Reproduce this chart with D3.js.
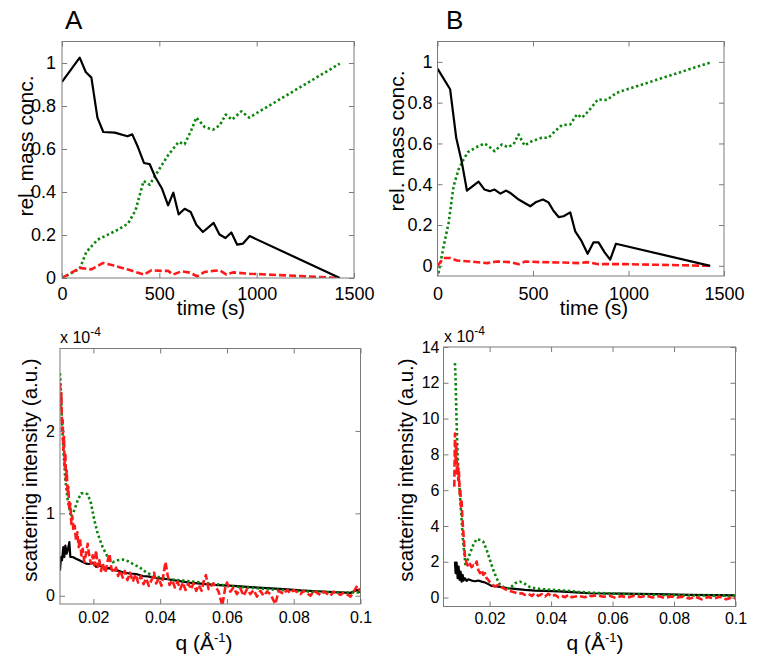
<!DOCTYPE html>
<html><head><meta charset="utf-8">
<script src="https://cdn.jsdelivr.net/npm/d3@7"></script>
<style>body{margin:0;background:#fff}</style>
</head><body>
<svg id="c" width="759" height="668"></svg>
<script>
// ---------- Panel A (top): relative mass concentration vs time ----------
const aBlackT = [0, 91, 122, 151, 182, 212, 271, 336, 361, 390, 421, 450, 479, 514, 545, 572, 599, 630, 661, 690, 724, 779, 809, 840, 870, 900, 930, 964, 1427];
const aBlackC = [0.912, 1.025, 0.958, 0.932, 0.746, 0.679, 0.676, 0.659, 0.668, 0.609, 0.535, 0.530, 0.470, 0.415, 0.338, 0.397, 0.296, 0.322, 0.307, 0.248, 0.214, 0.256, 0.202, 0.186, 0.212, 0.155, 0.160, 0.195, 0];
const aGreenT = [0, 91, 125, 182, 219, 288, 339, 378, 419, 450, 485, 545, 599, 630, 664, 690, 733, 776, 810, 841, 873, 921, 961, 1427];
const aGreenC = [0, 0.043, 0.121, 0.178, 0.194, 0.225, 0.253, 0.315, 0.451, 0.434, 0.485, 0.571, 0.633, 0.622, 0.687, 0.746, 0.702, 0.690, 0.710, 0.760, 0.736, 0.775, 0.746, 0.997];
const aRedT = [0, 91, 151, 211, 262, 339, 421, 459, 510, 545, 570, 613, 656, 695, 733, 776, 810, 845, 878, 964, 1221, 1427];
const aRedC = [0, 0.047, 0.040, 0.070, 0.059, 0.039, 0.016, 0.036, 0.033, 0.033, 0.016, 0.031, 0.025, 0.008, 0.028, 0.033, 0.036, 0.016, 0.026, 0.020, 0.009, 0];

// ---------- Panel B (top) ----------
const bBlackT = [0, 66, 98, 128, 154, 215, 246, 273, 299, 329, 360, 389, 425, 456, 486, 517, 552, 581, 607, 634, 660, 695, 721, 752, 786, 817, 843, 875, 904, 934, 1428];
const bBlackC = [0.967, 0.866, 0.628, 0.505, 0.369, 0.413, 0.374, 0.366, 0.374, 0.354, 0.369, 0.352, 0.325, 0.308, 0.292, 0.313, 0.325, 0.311, 0.270, 0.239, 0.243, 0.262, 0.169, 0.125, 0.059, 0.115, 0.115, 0.066, 0.030, 0.108, 0];
const bGreenT = [0, 32, 58, 84, 110, 136, 159, 197, 246, 267, 299, 337, 368, 398, 424, 456, 494, 546, 581, 616, 651, 695, 730, 756, 791, 840, 887, 939, 1428];
const bGreenC = [-0.06, 0.095, 0.210, 0.390, 0.472, 0.521, 0.557, 0.579, 0.600, 0.587, 0.562, 0.595, 0.582, 0.595, 0.644, 0.590, 0.611, 0.628, 0.628, 0.661, 0.690, 0.693, 0.743, 0.726, 0.759, 0.816, 0.813, 0.849, 0.997];
const bRedT = [0, 32, 66, 101, 171, 259, 311, 381, 425, 460, 538, 660, 747, 782, 843, 983, 1428];
const bRedC = [0.0, 0.038, 0.038, 0.026, 0.021, 0.013, 0.021, 0.018, 0.008, 0.021, 0.018, 0.016, 0.013, 0.018, 0.008, 0.008, 0];

// ---------- Panel A (bottom): scattering intensity (x 1e-4) vs q ----------
const cBlackQ = [0.0100, 0.0103, 0.0106, 0.0110, 0.0113, 0.0116, 0.0120, 0.0123, 0.0128, 0.0131,
  0.0138, 0.0148, 0.0158, 0.0168, 0.0178, 0.0188, 0.0198, 0.0208, 0.0218, 0.0228,
  0.0238, 0.0248, 0.0258, 0.0273, 0.0288, 0.0308, 0.0328, 0.0348, 0.0368, 0.0388,
  0.0418, 0.0448, 0.0488, 0.0538, 0.0560, 0.0620, 0.0670, 0.0720, 0.0770, 0.0820,
  0.0870, 0.0920, 0.0970, 0.0990, 0.1000];
const cBlackI = [0.305, 0.47, 0.43, 0.59, 0.47, 0.61, 0.51, 0.55, 0.65, 0.47,
  0.47, 0.45, 0.43, 0.41, 0.39, 0.385, 0.40, 0.35, 0.37, 0.345,
  0.33, 0.335, 0.31, 0.305, 0.285, 0.27, 0.264, 0.24, 0.232, 0.215,
  0.203, 0.183, 0.16, 0.142, 0.133, 0.121, 0.105, 0.093, 0.08, 0.065,
  0.055, 0.044, 0.035, 0.07, 0.04];
const cGreenQ = [0.0100, 0.0103, 0.0106, 0.0110, 0.0116, 0.0123, 0.0133, 0.0143, 0.0153, 0.0163,
  0.0173, 0.0183, 0.0193, 0.0203, 0.0213, 0.0228, 0.0243, 0.0258, 0.0273, 0.0288,
  0.0303, 0.0318, 0.0338, 0.0358, 0.0378, 0.0408, 0.0448, 0.0488, 0.0538, 0.062,
  0.072, 0.082, 0.092, 0.1];
const cGreenI = [2.70, 2.46, 2.13, 1.77, 1.40, 1.16, 0.955, 1.04, 1.16, 1.24,
  1.25, 1.23, 1.12, 0.915, 0.752, 0.589, 0.467, 0.407, 0.43, 0.44,
  0.42, 0.386, 0.346, 0.285, 0.244, 0.215, 0.191, 0.175, 0.155, 0.113,
  0.081, 0.055, 0.04, 0.04];
const cRedQ = [0.0100,0.0102,0.0104,0.0106,0.0108,0.0110,0.0112,0.0114,0.0116,0.0118,
  0.0120,0.0123,0.0125,0.0128,0.0131,0.0134,0.0137,0.0140,0.0144,0.0148,
  0.0152,0.0156,0.0160,0.0164,0.0168,0.0173,0.0178,0.0183,0.0188,0.0193,
  0.0198,0.0203,0.0208,0.0213,0.0218,0.0223,0.0228,0.0236,0.0243,0.0248,
  0.0254,0.0260,0.0268,0.0274,0.0280,0.0288,0.0294,0.0302,0.0310,0.0318,
  0.0326,0.0334,0.0342,0.0350,0.0358,0.0366,0.0374,0.0382,0.0388,0.0396,
  0.0404,0.0410,0.0416,0.0422,0.0428,0.0436,0.0444,0.0452,0.0460,0.0468,
  0.0476,0.0484,0.0492,0.0500,0.0508,0.0516,0.0524,0.0532,0.0537,0.0545,
  0.0560,0.0575,0.0586,0.0595,0.0600,0.0610,0.0620,0.0630,0.0640,0.0650,
  0.0660,0.0670,0.0680,0.0690,0.0700,0.0710,0.0720,0.0730,0.0745,0.0755,
  0.0770,0.0780,0.0790,0.0800,0.0820,0.0830,0.0850,0.0860,0.0880,0.0890,
  0.0910,0.0920,0.0940,0.0950,0.0970,0.0980,0.0990,0.1000];
const cRedI = [2.58,2.30,2.46,2.01,2.13,1.77,1.93,1.57,1.73,1.40,
  1.52,1.24,1.32,1.04,1.12,0.87,0.96,0.79,0.85,0.67,
  0.77,0.59,0.69,0.49,0.57,0.41,0.51,0.63,0.47,0.39,
  0.49,0.37,0.55,0.35,0.43,0.30,0.39,0.28,0.43,0.51,
  0.33,0.28,0.34,0.24,0.31,0.22,0.30,0.19,0.28,0.17,
  0.26,0.16,0.24,0.14,0.21,0.12,0.19,0.28,0.15,0.21,
  0.12,0.26,0.41,0.26,0.13,0.19,0.10,0.17,0.08,0.16,
  0.07,0.15,0.08,0.15,0.06,0.13,0.06,0.20,0.25,0.08,
  0.15,0.05,-0.12,0.10,0.16,0.05,0.10,0.02,0.09,0.00,
  0.08,0.02,0.07,-0.01,0.06,0.00,0.05,0.02,-0.10,0.06,
  0.02,0.07,0.03,0.07,0.02,0.06,0.00,0.06,0.01,0.05,
  0.00,0.05,0.01,0.04,-0.01,0.05,0.12,0.05];

// ---------- Panel B (bottom) ----------
const dBlackQ = [0.00873,0.00894,0.00927,0.00960,0.00992,0.01025,0.01057,0.01090,0.01122,0.01155,
  0.01198,0.01253,0.01307,0.01415,0.01524,0.01633,0.01741,0.01850,0.01958,0.02067,
  0.02229,0.02392,0.02609,0.02826,0.03152,0.03478,0.03803,0.04238,0.04672,0.05214,
  0.063,0.074,0.085,0.1];
const dBlackI = [2.01,1.36,1.95,1.08,1.73,0.99,1.45,0.89,1.27,0.95,
  1.08,0.93,1.02,0.95,0.91,0.95,0.89,0.84,0.75,0.65,
  0.62,0.58,0.52,0.49,0.43,0.39,0.37,0.34,0.30,0.24,
  0.22,0.19,0.15,0.12];
const dGreenQ = [0.00873,0.00894,0.00927,0.00960,0.01003,0.01046,0.01090,0.01133,0.01177,0.01220,
  0.01285,0.01361,0.01470,0.01578,0.01687,0.01795,0.01904,0.02012,0.02121,0.02229,
  0.02338,0.02501,0.02664,0.02826,0.02989,0.03152,0.03315,0.03478,0.03695,0.04020,
  0.04455,0.04889,0.05214,0.063,0.074,0.085,0.1];
const dGreenI = [13.1,12.14,9.72,7.86,6.56,5.45,4.33,3.22,2.47,1.73,
  2.10,2.47,2.94,3.27,3.22,3.12,2.66,2.10,1.54,1.08,
  0.71,0.52,0.52,0.80,0.89,0.76,0.58,0.52,0.47,0.43,
  0.39,0.32,0.28,0.20,0.15,0.12,0.10];
const dRedQ = [0.00851,0.00873,0.00894,0.00916,0.00938,0.00960,0.00981,0.01003,0.01025,0.01046,
  0.01068,0.01090,0.01111,0.01133,0.01155,0.01177,0.01198,0.01253,0.01307,0.01361,
  0.01415,0.01470,0.01524,0.01578,0.01633,0.01687,0.01741,0.01795,0.01850,0.01904,
  0.01958,0.02012,0.02067,0.02175,0.02284,0.02392,0.02501,0.02609,0.02718,0.02826,
  0.02935,0.03044,0.03152,0.03261,0.03369,0.03478,0.03586,0.03695,0.03803,0.03912,
  0.04020,0.04129,0.04238,0.04346,0.04455,0.04563,0.04672,0.04889,0.05106,0.05214,
  0.053,0.055,0.057,0.059,0.061,0.063,0.065,0.067,0.069,0.071,
  0.073,0.075,0.077,0.079,0.081,0.083,0.085,0.087,0.089,0.091,
  0.093,0.095,0.097,0.099,0.100];
const dRedI = [6.19,9.16,7.68,8.61,6.93,7.49,6.56,7.03,5.82,6.10,
  5.08,5.36,4.52,3.96,3.40,2.85,2.29,1.92,1.73,1.88,
  1.70,1.80,1.77,2.01,1.54,1.36,1.54,1.27,1.36,1.08,
  0.99,0.84,0.75,0.62,0.71,0.58,0.47,0.39,0.34,0.28,
  0.21,0.24,0.15,0.21,0.09,0.24,0.09,0.19,0.06,0.21,
  0.06,0.15,0.02,0.09,0.02,0.15,0.02,0.09,0.02,0.13,
  0.08,0.13,0.04,0.10,-0.02,0.08,0.00,0.10,0.03,0.09,
  0.00,0.07,-0.03,0.06,0.00,0.05,-0.06,0.04,-0.10,0.03,
  -0.05,0.04,-0.10,0.02,-0.05];

// ---------- ticks ----------
const timeTicks = [0, 500, 1000, 1500];
const concTicks = [0, 0.2, 0.4, 0.6, 0.8, 1];
const qTicks = [0.02, 0.04, 0.06, 0.08, 0.1];
const intATicks = [0, 1, 2];
const intBTicks = [0, 2, 4, 6, 8, 10, 12, 14];

const BLACK = "#000000", GREEN = "#0a850a", RED = "#ff1a1a";
const FONT = "'Liberation Sans', Arial, Helvetica, sans-serif";
const svg = d3.select("#c");

function panel(o) {
  const x = d3.scaleLinear().domain(o.xDomain).range([o.left, o.right]);
  const y = d3.scaleLinear().domain(o.yDomain).range([o.bottom, o.top]);
  const cid = "clip-" + o.id;
  svg.append("clipPath").attr("id", cid).append("rect")
    .attr("x", o.left).attr("y", o.top).attr("width", o.right - o.left).attr("height", o.bottom - o.top);
  const g = svg.append("g");
  const line = d3.line().x(d => x(d[0])).y(d => y(d[1]));
  o.series.forEach(s => {
    const pts = s.x.map((v, i) => [v, s.y[i]]);
    g.append("path").attr("clip-path", `url(#${cid})`)
      .attr("d", line(pts)).attr("fill", "none")
      .attr("stroke", s.color).attr("stroke-width", s.width)
      .attr("stroke-dasharray", s.dash || null)
      .attr("stroke-linejoin", "round");
  });
  const axisCol = "#7a7a7a";
  const style = (sel, fs) => {
    sel.select(".domain").remove();
    sel.selectAll(".tick line").attr("stroke", axisCol);
    sel.selectAll(".tick text").attr("fill", "#000").attr("font-family", FONT).attr("font-size", fs);
  };
  const fmt = d => String(d);
  svg.append("g").attr("transform", `translate(0,${o.bottom})`)
    .call(d3.axisBottom(x).tickValues(o.xTicks).tickFormat(fmt).tickSizeInner(-5).tickSizeOuter(0).tickPadding(o.xPad))
    .call(s => style(s, o.tickFs));
  svg.append("g").attr("transform", `translate(0,${o.top})`)
    .call(d3.axisTop(x).tickValues(o.xTicks).tickFormat("").tickSizeInner(-5).tickSizeOuter(0))
    .call(s => style(s, o.tickFs));
  svg.append("g").attr("transform", `translate(${o.left},0)`)
    .call(d3.axisLeft(y).tickValues(o.yTicks).tickFormat(fmt).tickSizeInner(-5).tickSizeOuter(0).tickPadding(o.yPad))
    .call(s => style(s, o.tickFs));
  svg.append("g").attr("transform", `translate(${o.right},0)`)
    .call(d3.axisRight(y).tickValues(o.yTicks).tickFormat("").tickSizeInner(-5).tickSizeOuter(0))
    .call(s => style(s, o.tickFs));
  svg.append("rect").attr("x", o.left).attr("y", o.top)
    .attr("width", o.right - o.left).attr("height", o.bottom - o.top)
    .attr("fill", "none").attr("stroke", axisCol).attr("stroke-width", 1);
  return {x, y};
}

const solid = (x, y) => ({x, y, color: BLACK, width: 2.2});
const dotted = (x, y) => ({x, y, color: GREEN, width: 2.6, dash: "2.4,2.6"});
const dashed = (x, y) => ({x, y, color: RED, width: 2.6, dash: "7,3"});

panel({id: "a1", left: 62, right: 354, top: 41.5, bottom: 278,
  xDomain: [0, 1500], yDomain: [0, 1.1], xTicks: timeTicks, yTicks: concTicks,
  tickFs: 18, xPad: 9, yPad: 6,
  series: [dotted(aGreenT, aGreenC), dashed(aRedT, aRedC), solid(aBlackT, aBlackC)]});
panel({id: "b1", left: 437.5, right: 724, top: 41.5, bottom: 276,
  xDomain: [0, 1500], yDomain: [-0.05, 1.1], xTicks: timeTicks, yTicks: concTicks,
  tickFs: 18, xPad: 11, yPad: 5,
  series: [dotted(bGreenT, bGreenC), dashed(bRedT, bRedC), solid(bBlackT, bBlackC)]});
panel({id: "a2", left: 60, right: 360.5, top: 348.5, bottom: 604,
  xDomain: [0.01, 0.1], yDomain: [-0.1, 3.0], xTicks: qTicks, yTicks: intATicks,
  tickFs: 16, xPad: 8, yPad: 5,
  series: [solid(cBlackQ, cBlackI), dotted(cGreenQ, cGreenI), dashed(cRedQ, cRedI)]});
panel({id: "b2", left: 443.5, right: 735.5, top: 347, bottom: 606.5,
  xDomain: [0.005, 0.1], yDomain: [-0.5, 14], xTicks: qTicks, yTicks: intBTicks,
  tickFs: 16, xPad: 6, yPad: 4,
  series: [solid(dBlackQ, dBlackI), dotted(dGreenQ, dGreenI), dashed(dRedQ, dRedI)]});

// ---------- text ----------
function txt(x, y, s, fs, anchor, rot) {
  const t = svg.append("text").attr("x", x).attr("y", y).attr("font-family", FONT)
    .attr("font-size", fs).attr("fill", "#000").attr("text-anchor", anchor || "start").text(s);
  if (rot) t.attr("transform", `rotate(${rot},${x},${y})`);
  return t;
}
txt(65, 29, "A", 26);
txt(446, 29, "B", 26);
txt(33, 146, "rel. mass conc.", 21, "middle", -90);
txt(404, 141, "rel. mass conc.", 21, "middle", -90);
txt(211, 315, "time (s)", 20.5, "middle");
txt(594, 315, "time (s)", 20.5, "middle");
txt(37, 470, "scattering intensity (a.u.)", 20.5, "middle", -90);
txt(413, 470, "scattering intensity (a.u.)", 20.5, "middle", -90);

function qLabel(cx) {
  const t = svg.append("text").attr("x", cx).attr("y", 650).attr("font-family", FONT)
    .attr("font-size", 21).attr("text-anchor", "middle").attr("fill", "#000");
  t.append("tspan").text("q (Å");
  t.append("tspan").attr("dy", -8).attr("font-size", 13).text("-1");
  t.append("tspan").attr("dy", 8).text(")");
}
qLabel(204);
qLabel(595);

function expLabel(x, y) {
  const t = svg.append("text").attr("x", x).attr("y", y).attr("font-family", FONT)
    .attr("font-size", 16).attr("fill", "#000");
  t.append("tspan").text("x 10");
  t.append("tspan").attr("dy", -7).attr("font-size", 12).text("-4");
}
expLabel(60, 343);
expLabel(444, 342);
</script>
</body></html>
